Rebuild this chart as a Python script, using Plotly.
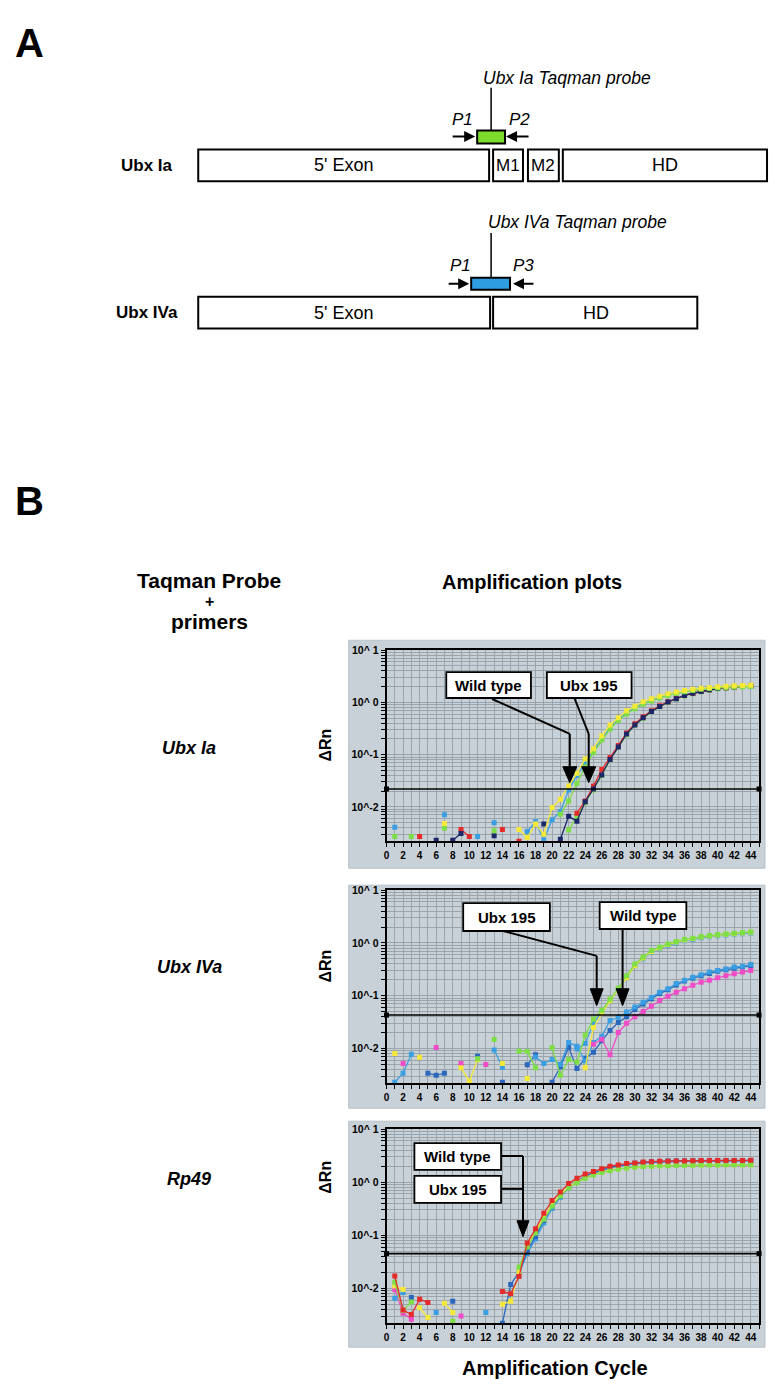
import plotly.graph_objects as go

W, H = 775, 1391
FONT = "Liberation Sans, Arial, sans-serif"
N = None


def X(p):
    return p / W


def Y(p):
    return 1 - p / H


# ---------------- data ----------------
cycles = list(range(1, 45))
x_tick_vals = list(range(0, 46))
x_tick_labels = [str(v) if v % 2 == 0 else "" for v in x_tick_vals]
y_decades = [0.01, 0.1, 1, 10]
y_tick_labels = ["10^-2", "10^-1", "10^ 0", "10^ 1"]
thresholds = [0.022, 0.043, 0.045]

# Ubx Ia panel (cycles 1..44)
ia_blue = [0.0041, N, N, N, N, N, 0.0071, N, N, N,
           0.0027, N, 0.0050, N, N, N, 0.0034, 0.0052, 0.0023, 0.0057,
           0.0081, 0.021, 0.040, 0.070, 0.12, 0.20, 0.33, 0.47, 0.63, 0.80,
           0.95, 1.10, 1.25, 1.40, 1.50, 1.62, 1.72, 1.80, 1.87, 1.92,
           1.96, 1.99, 2.02, 2.05]
ia_late_green = [N, N, N, N, N, N, N, N, N, N,
                 N, N, N, N, N, N, N, N, N, N,
                 N, 0.0036, 0.0065, 0.012, 0.021, 0.040, 0.080, 0.14, 0.24, 0.37,
                 0.50, 0.66, 0.83, 1.00, 1.16, 1.33, 1.47, 1.60, 1.72, 1.82,
                 1.90, 1.96, 2.00, 2.04]
ia_red = [N, N, N, 0.0027, N, N, N, N, 0.0037, 0.0027,
          N, N, N, 0.0037, N, 0.0022, N, N, N, N,
          N, N, 0.0076, 0.013, 0.025, 0.052, 0.088, 0.15, 0.26, 0.39,
          0.53, 0.69, 0.86, 1.03, 1.19, 1.36, 1.50, 1.62, 1.75, 1.85,
          1.92, 1.98, 2.03, 2.06]
ia_navy = [N, N, N, N, N, 0.0023, N, 0.0023, 0.0031, N,
           N, N, 0.0028, N, N, N, N, N, 0.0047, N,
           0.0024, 0.0066, 0.0053, 0.0126, 0.022, 0.041, 0.081, 0.14, 0.25, 0.37,
           0.51, 0.67, 0.84, 1.02, 1.18, 1.36, 1.50, 1.62, 1.75, 1.85,
           1.92, 1.98, 2.04, 2.07]
ia_green = [0.0027, N, 0.0027, N, N, N, 0.0039, N, N, N,
            N, N, 0.0035, N, N, N, N, N, N, N,
            0.0072, 0.013, 0.028, 0.058, 0.11, 0.19, 0.31, 0.45, 0.60, 0.76,
            0.92, 1.07, 1.22, 1.36, 1.48, 1.60, 1.70, 1.78, 1.85, 1.90,
            1.94, 1.97, 2.00, 2.02]
ia_yellow = [N, N, N, N, N, N, 0.0048, N, N, N,
             N, N, N, N, N, 0.0037, 0.0026, 0.0047, 0.0030, 0.0097,
             0.014, 0.025, 0.044, 0.083, 0.13, 0.23, 0.37, 0.51, 0.69, 0.85,
             1.03, 1.18, 1.32, 1.46, 1.58, 1.69, 1.78, 1.86, 1.94, 2.00,
             2.05, 2.08, 2.10, 2.13]

# Ubx IVa panel
iva_steel = [N, N, N, N, 0.0034, 0.0031, 0.0034, N, N, N,
             0.0071, N, N, 0.0023, N, N, 0.0049, 0.0076, N, 0.0023,
             0.0045, 0.0105, 0.0042, 0.0065, 0.0085, 0.014, 0.022, 0.031, 0.040, 0.055,
             0.070, 0.088, 0.11, 0.13, 0.16, 0.19, 0.215, 0.24, 0.265, 0.29,
             0.31, 0.33, 0.35, 0.37]
iva_blue = [0.0023, 0.0034, 0.0078, N, N, N, N, N, N, N,
            N, N, 0.0094, 0.0044, N, N, N, 0.0069, 0.0052, 0.0062,
            0.0050, 0.013, 0.011, 0.0058, 0.013, 0.017, 0.034, 0.039, 0.049, 0.061,
            0.075, 0.093, 0.117, 0.135, 0.17, 0.196, 0.225, 0.25, 0.28, 0.30,
            0.32, 0.35, 0.36, 0.39]
iva_pink = [N, 0.0052, N, N, N, 0.0105, N, N, 0.0052, N,
            N, 0.0050, N, N, N, N, N, N, N, N,
            N, N, N, N, 0.012, 0.015, 0.0076, 0.020, 0.030, 0.040,
            0.050, 0.063, 0.081, 0.098, 0.117, 0.136, 0.158, 0.18, 0.196, 0.22,
            0.24, 0.26, 0.28, 0.30]
iva_sky = [N, N, N, N, N, N, N, N, N, N,
           N, N, N, N, N, N, N, N, N, N,
           N, N, 0.0098, 0.0125, 0.030, 0.048, 0.080, 0.13, 0.22, 0.37,
           0.50, 0.66, 0.78, 0.90, 1.00, 1.10, 1.17, 1.25, 1.31, 1.37,
           1.42, 1.46, 1.50, 1.55]
iva_yellow = [0.0080, N, N, 0.0068, N, N, N, N, 0.0043, 0.0024,
              0.0062, N, N, 0.0052, N, N, 0.0027, N, N, N,
              N, N, N, 0.0043, 0.025, 0.046, 0.080, 0.13, 0.22, 0.37,
              0.52, 0.68, 0.80, 0.93, 1.04, 1.14, 1.21, 1.29, 1.35, 1.41,
              1.46, 1.50, 1.55, 1.60]
iva_green = [N, N, N, N, N, N, N, N, N, N,
             0.0064, N, 0.0148, N, N, 0.0089, 0.0088, 0.0043, N, 0.0105,
             0.0031, 0.0062, 0.0055, 0.018, 0.036, 0.053, 0.087, 0.138, 0.24, 0.40,
             0.54, 0.72, 0.83, 0.96, 1.07, 1.17, 1.23, 1.32, 1.38, 1.44,
             1.48, 1.53, 1.57, 1.62]

# Rp49 panel
rp_pink = [0.0095, 0.0034, 0.0026, N, N, N, N, N, 0.0030, N,
           N, N, N, N, N, N, N, N, N, N,
           N, N, N, N, N, N, N, N, N, N,
           N, N, N, N, N, N, N, N, N, N,
           N, N, N, N]
rp_blue = [0.0065, 0.0083, N, N, N, 0.0035, N, N, N, N,
           N, 0.0035, N, N, 0.0075, 0.018, 0.045, 0.085, 0.17, 0.32,
           0.52, 0.78, 1.02, 1.25, 1.45, 1.65, 1.85, 2.00, 2.12, 2.22,
           2.30, 2.35, 2.40, 2.42, 2.44, 2.46, 2.48, 2.48, 2.50, 2.50,
           2.50, 2.50, 2.50, 2.52]
rp_navy = [N, N, 0.0067, N, N, N, N, 0.0057, N, N,
           N, N, N, 0.0022, 0.0118, 0.020, 0.050, 0.095, 0.19, 0.35,
           0.55, 0.82, 1.05, 1.30, 1.50, 1.70, 1.90, 2.05, 2.18, 2.28,
           2.36, 2.42, 2.46, 2.50, 2.50, 2.52, 2.52, 2.54, 2.54, 2.55,
           2.55, 2.55, 2.55, 2.56]
rp_yellow = [0.011, 0.0095, N, 0.0043, 0.0028, N, 0.0052, 0.0035, N, N,
             N, N, N, 0.0050, 0.0057, 0.020, 0.065, 0.12, 0.22, 0.38,
             0.58, 0.82, 1.02, 1.22, 1.40, 1.55, 1.68, 1.78, 1.86, 1.93,
             1.98, 2.02, 2.05, 2.07, 2.08, 2.09, 2.10, 2.11, 2.12, 2.12,
             2.13, 2.13, 2.14, 2.14]
rp_green = [0.013, 0.0038, 0.0055, N, N, N, N, 0.0024, N, N,
            N, N, N, N, N, 0.025, 0.060, 0.11, 0.20, 0.35,
            0.55, 0.78, 0.98, 1.18, 1.36, 1.52, 1.65, 1.76, 1.85, 1.92,
            1.97, 2.00, 2.03, 2.05, 2.07, 2.08, 2.09, 2.10, 2.10, 2.11,
            2.12, 2.12, 2.13, 2.13]
rp_red = [0.017, 0.0039, 0.0032, 0.0062, 0.0054, N, N, N, N, N,
          N, N, N, 0.0087, 0.0079, 0.0166, 0.071, 0.132, 0.26, 0.45,
          0.65, 0.94, 1.19, 1.42, 1.59, 1.80, 2.00, 2.11, 2.24, 2.30,
          2.40, 2.44, 2.48, 2.48, 2.50, 2.52, 2.54, 2.56, 2.56, 2.56,
          2.57, 2.57, 2.57, 2.58]

# ---------------- styles ----------------
C_YEL = "#f4e838"
C_GRN = "#7ede45"
C_LBL = "#3a9fe2"
C_STL = "#2a67bd"
C_NAV = "#1b2768"
C_RED = "#e52a2a"
C_PNK = "#f04cc8"

panel_series = [
    [(ia_blue, C_LBL), (ia_late_green, C_GRN), (ia_red, C_RED), (ia_navy, C_NAV),
     (ia_green, C_GRN), (ia_yellow, C_YEL)],
    [(iva_steel, C_STL), (iva_blue, C_LBL), (iva_pink, C_PNK), (iva_sky, C_LBL),
     (iva_yellow, C_YEL), (iva_green, C_GRN)],
    [(rp_pink, C_PNK), (rp_blue, C_LBL), (rp_navy, C_STL), (rp_yellow, C_YEL),
     (rp_green, C_GRN), (rp_red, C_RED)],
]

# plot area pixel boxes (top, bottom)
plot_rows = [(647, 839), (888, 1082), (1128, 1323)]
gray_rows = [(637, 866), (883, 1107), (1120, 1347)]
PX0, PX1 = 385, 759

fig = go.Figure()

for i, series in enumerate(panel_series):
    xa = "x" if i == 0 else f"x{i+1}"
    ya = "y" if i == 0 else f"y{i+1}"
    for vals, col in series:
        fig.add_trace(go.Scatter(
            x=cycles, y=vals, mode="lines+markers", xaxis=xa, yaxis=ya,
            line=dict(color=col, width=1.3),
            marker=dict(symbol="square", size=5, color=col),
            connectgaps=False, showlegend=False, hoverinfo="skip"))
    thr = thresholds[i]
    fig.add_trace(go.Scatter(
        x=[0, 45], y=[thr, thr], mode="lines+markers", xaxis=xa, yaxis=ya,
        line=dict(color="black", width=1.6),
        marker=dict(symbol="square", size=5, color="black"),
        cliponaxis=False, showlegend=False, hoverinfo="skip"))

# y grid positions (decades + 2..9)
grid_vals = []
grid_text = []
for e in (-3, -2, -1, 0):
    for k in range(1, 10):
        v = k * 10 ** e
        if 10 ** -2.66 <= v <= 10:
            grid_vals.append(v)
            grid_text.append("")
grid_vals.append(10)
grid_text.append("")
for dv, lab in zip(y_decades, y_tick_labels):
    for j, gv in enumerate(grid_vals):
        if abs(gv - dv) / dv < 1e-6:
            grid_text[j] = lab

layout_axes = {}
for i, (top, bot) in enumerate(plot_rows):
    xk = "xaxis" if i == 0 else f"xaxis{i+1}"
    yk = "yaxis" if i == 0 else f"yaxis{i+1}"
    xa = "x" if i == 0 else f"x{i+1}"
    ya = "y" if i == 0 else f"y{i+1}"
    layout_axes[xk] = dict(
        domain=[X(PX0), X(PX1)], range=[0, 45], anchor=ya,
        tickmode="array", tickvals=x_tick_vals, ticktext=x_tick_labels,
        ticks="outside", ticklen=4, tickcolor="black", tickwidth=1,
        showgrid=True, gridcolor="#9ba4aa", gridwidth=1,
        showline=True, linecolor="black", linewidth=1.6, mirror=True,
        zeroline=False, fixedrange=True,
        tickfont=dict(family=FONT, size=10, color="black", weight="bold"))
    layout_axes[yk] = dict(
        domain=[Y(bot), Y(top)], type="log", range=[-2.66, 1.0], anchor=xa,
        tickmode="array", tickvals=grid_vals, ticktext=grid_text,
        ticks="outside", ticklen=4, tickcolor="black", tickwidth=1,
        showgrid=True, gridcolor="#9ba4aa", gridwidth=1,
        showline=True, linecolor="black", linewidth=1.6, mirror=True,
        zeroline=False, fixedrange=True,
        tickfont=dict(family=FONT, size=10.5, color="black", weight="bold"))

shapes = []
annotations = []


def rect(x0, y0, x1, y1, fill="white", line="black", lw=1.8, layer="above"):
    shapes.append(dict(type="rect", xref="paper", yref="paper",
                       x0=X(x0), x1=X(x1), y0=Y(y1), y1=Y(y0),
                       fillcolor=fill, line=dict(color=line, width=lw), layer=layer))


def seg(x0, y0, x1, y1, lw=2, color="black"):
    shapes.append(dict(type="line", xref="paper", yref="paper",
                       x0=X(x0), x1=X(x1), y0=Y(y0), y1=Y(y1),
                       line=dict(color=color, width=lw)))


def tri_down(xc, ytop, ytip, half):
    path = (f"M {X(xc-half)},{Y(ytop)} L {X(xc+half)},{Y(ytop)} "
            f"L {X(xc)},{Y(ytip)} Z")
    shapes.append(dict(type="path", xref="paper", yref="paper", path=path,
                       fillcolor="black", line=dict(color="black", width=1)))


def text(x, y, s, size, bold=False, italic=False, angle=0, color="black"):
    annotations.append(dict(
        x=X(x), y=Y(y), xref="paper", yref="paper", text=s, showarrow=False,
        xanchor="center", yanchor="middle", textangle=angle,
        font=dict(family=FONT, size=size, color=color,
                  weight="bold" if bold else "normal",
                  style="italic" if italic else "normal")))


def harrow(x_tail, x_head, y):
    annotations.append(dict(
        x=X(x_head), y=Y(y), xref="paper", yref="paper", text="",
        showarrow=True, ax=x_tail - x_head, ay=0, arrowhead=2,
        arrowsize=1.1, arrowwidth=2, arrowcolor="black", standoff=0))


# gray panels behind plots
for (gt, gb) in gray_rows:
    rect(347, gt, 765, gb, fill="#c8d1d7", line="#b9c3c9", lw=1, layer="below")

# ---------- Panel A ----------
text(27, 37, "A", 40, bold=True)
text(566, 72, "Ubx Ia Taqman probe", 17.5, italic=True)
seg(490, 82, 490, 126, lw=1.5)
text(461, 114, "P1", 17, italic=True)
text(519, 114, "P2", 17, italic=True)
harrow(450, 474, 131)
harrow(529, 505, 131)
rect(476, 125, 504, 138, fill="#7cdc2e", lw=2)
text(145, 160, "Ubx Ia", 17, bold=True)
rect(196, 144, 488, 176, lw=2)
rect(492, 144, 522, 176, lw=2)
rect(527, 144, 558, 176, lw=2)
rect(562, 144, 767, 176, lw=2)
text(342, 160, "5' Exon", 18)
text(507, 160, "M1", 17)
text(542, 160, "M2", 17)
text(665, 160, "HD", 18)

text(577, 217, "Ubx IVa Taqman probe", 17.5, italic=True)
seg(490, 228, 490, 273, lw=1.5)
text(459, 261, "P1", 17, italic=True)
text(523, 261, "P3", 17, italic=True)
harrow(446, 468, 279)
harrow(534, 512, 279)
rect(470, 273, 509, 285, fill="#2f9ee0", lw=2)
text(145, 308, "Ubx IVa", 17, bold=True)
rect(196, 292, 489, 324, lw=2)
rect(492, 292, 697, 324, lw=2)
text(342, 308, "5' Exon", 18)
text(595, 308, "HD", 18)

# ---------- Panel B ----------
text(27, 497, "B", 40, bold=True)
text(207, 577, "Taqman Probe", 21, bold=True)
text(207, 598, "+", 16, bold=True)
text(207, 618, "primers", 21, bold=True)
text(531, 578, "Amplification plots", 20, bold=True)

text(187, 745, "Ubx Ia", 18, bold=True, italic=True)
text(187, 965, "Ubx IVa", 18, bold=True, italic=True)
text(187, 1178, "Rp49", 18, bold=True, italic=True)
for yy in (742, 964, 1176):
    text(324, yy, "ΔRn", 16, bold=True, angle=-90)
text(554, 1368, "Amplification Cycle", 20, bold=True)

# panel 1 callouts
seg(491, 696, 569, 731)
seg(569, 731, 569, 765)
tri_down(569, 764, 780, 7)
seg(574, 696, 588, 731)
seg(588, 731, 588, 765)
tri_down(588, 764, 780, 7)
rect(445, 669, 530, 695)
text(487.5, 682, "Wild type", 15, bold=True)
rect(546, 669, 631, 695)
text(588.5, 682, "Ubx 195", 15, bold=True)

# panel 2 callouts
seg(502, 929, 596, 954)
seg(596, 954, 596, 988)
tri_down(596, 987, 1004, 6.5)
seg(622, 927, 622, 988)
tri_down(622, 987, 1004, 6.5)
rect(462, 901, 549, 929)
text(505.5, 915, "Ubx 195", 15, bold=True)
rect(599, 900, 686, 927)
text(642.5, 913.5, "Wild type", 15, bold=True)

# panel 3 callouts
seg(500, 1155, 522, 1155)
seg(500, 1188, 522, 1188)
seg(522, 1155, 522, 1221)
tri_down(522, 1220, 1236, 6)
rect(413, 1142, 500, 1169)
text(456.5, 1155.5, "Wild type", 15, bold=True)
rect(413, 1175, 500, 1202)
text(456.5, 1188.5, "Ubx 195", 15, bold=True)

fig.update_layout(
    width=W, height=H, autosize=False,
    margin=dict(l=0, r=0, t=0, b=0, pad=0),
    paper_bgcolor="white", plot_bgcolor="#e8edf0",
    showlegend=False, shapes=shapes, annotations=annotations,
    font=dict(family=FONT, color="black"),
    **layout_axes)

fig.write_html("out.html", config={"displayModeBar": False},
               post_script="document.body.style.margin='0';document.body.style.overflow='hidden';")
